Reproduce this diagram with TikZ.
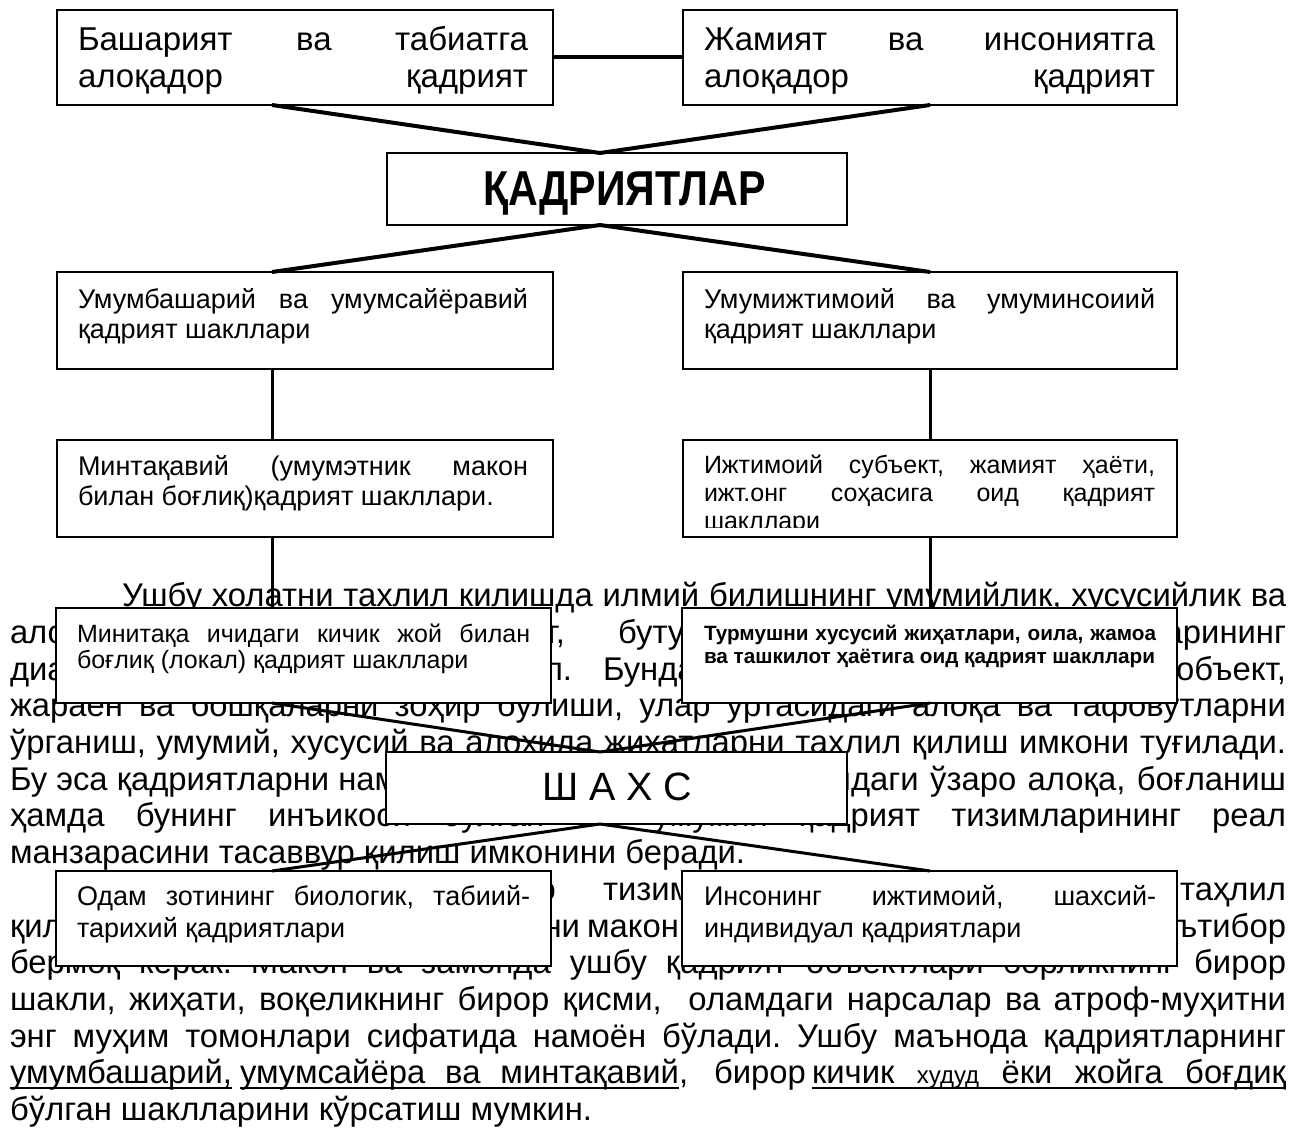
\documentclass[tikz,border=0pt]{standalone}
\usepackage{fontspec}
\setmainfont{Liberation Sans}
\newcommand\fsz[1]{\fontsize{#1}{#1}\selectfont}
\newcommand\jl[2]{\makebox[#1pt][s]{#2}}
\begin{document}
\frenchspacing
\begin{tikzpicture}[x=1pt,y=-1pt,
  bt/.style={anchor=base west,inner sep=0pt,outer sep=0pt,font=\fsz{32.8}},
  bte/.style={anchor=base east,inner sep=0pt,outer sep=0pt,font=\fsz{32.8}},
  bx/.style={draw,line width=2pt,fill=white,inner sep=0pt,outer sep=0pt,rectangle},
  lt/.style={anchor=base west,inner sep=0pt,outer sep=0pt},
  toplink/.style={line width=4pt,line join=round},
  vlink/.style={line width=3pt},
  midlink/.style={line width=3pt,line join=round},
  ul/.style={line width=1.5pt}]
\useasboundingbox (0,0) rectangle (1294,1132);
% ---------- body text ----------
\node[bt] (t1) at (122,606) {\jl{1164}{Ушбу холатни тахлил килишда илмий билишнинг умумийлик, хусусийлик ва}};
\node[bt] (t2a) at (10,643) {\jl{555}{алоҳидалик ва бирликнинг,}};
\node[bt] (t2b) at (618,643) {\jl{668}{бутун ва қисм категорияларининг}};
\node[bt] (t3a) at (10,680) {\jl{562}{диалектикасига таяниш маъқул.}};
\node[bt] (t3b) at (603,680) {\jl{683}{Бунда қадриятлар, субъект, объект,}};
\node[bt] (t4) at (10,716) {\jl{1276}{жараён ва бошқаларни зоҳир бўлиши, улар ўртасидаги алоқа ва тафовутларни}};
\node[bt] (t5) at (10,753) {\jl{1276}{ўрганиш, умумий, хусусий ва алоҳида жиҳатларни таҳлил қилиш имкони туғилади.}};
\node[bt] (t6a) at (10,790) {Бу эса қадриятларни намоён бўлиш};
\node[bte] (t6p) at (851,790) {шакллари};
\node[bt] (t6b) at (851,790) {\jl{435}{даги ўзаро алоқа, боғланиш}};
\node[bt] (t7) at (10,826) {\jl{1276}{ҳамда бунинг инъикоси бўлган энг умумий қадрият тизимларининг реал}};
\node[bt] (t8) at (10,863) {манзарасини тасаввур қилиш имконини беради.};
\node[bt] (t9a) at (122,900) {\jl{434}{Қадриятларни ўзаро}};
\node[bt] (t9b) at (603,900) {\jl{683}{тизими сифатида таҳлил}};
\node[bt] (t10a) at (10,937) {\jl{570}{қилишда уларнинг замони}};
\node[bt] (t10b) at (587,937) {\jl{699}{макони ва даврига эътибор}};
\node[bt] (t11) at (10,973) {\jl{1276}{бермоқ керак. Макон ва замонда ушбу қадрият объектлари борликнинг бирор}};
\node[bt] (t12) at (10,1010) {\jl{1276}{шакли, жиҳати, воқеликнинг бирор қисми,\ \ оламдаги нарсалар ва атроф-муҳитни}};
\node[bt] (t13) at (10,1047) {\jl{1276}{энг муҳим томонлари сифатида намоён бўлади. Ушбу маънода қадриятларнинг}};
\node[bt] (u1) at (10,1083) {умумбашарий,};
\node[bt] (u2) at (240,1083) {\jl{439}{умумсайёра ва минтақавий}};
\node[bt] (u3) at (679,1083) {,};
\node[bt] (u4) at (714,1083) {бирор};
\node[bt] (u5) at (812,1083) {\jl{474}{кичик {\fsz{24}худуд} ёки жойга боғдиқ}};
\node[bt] (t15) at (10,1120) {бўлган шаклларини кўрсатиш мумкин.};
\foreach \u in {u1,u2,u5}
  \draw[ul] ([yshift=-5pt]\u.base west) -- ([yshift=-5pt]\u.base east);
% ---------- coordinates for connectors ----------
\coordinate (xl) at (272,0);
\coordinate (xm) at (600,0);
\coordinate (xr) at (930,0);
% ---------- boxes ----------
\node[bx,minimum width=496pt,minimum height=95pt] (b1) at (305,57.5) {};
\node[bx,minimum width=494pt,minimum height=95pt] (b2) at (930,57.5) {};
\node[bx,minimum width=460pt,minimum height=72pt] (q) at (617,189) {};
\node[bx,minimum width=496pt,minimum height=97pt] (b3) at (305,320.5) {};
\node[bx,minimum width=494pt,minimum height=97pt] (b4) at (930,320.5) {};
\node[bx,minimum width=496pt,minimum height=97pt] (b5) at (305,488.5) {};
\node[bx,minimum width=494pt,minimum height=97pt] (b6) at (930,488.5) {};
\node[bx,minimum width=495pt,minimum height=95pt] (b7) at (303.5,655.5) {};
\node[bx,minimum width=495pt,minimum height=95pt] (b8) at (929.5,655.5) {};
\node[bx,minimum width=461pt,minimum height=72pt] (s) at (616.5,788) {};
\node[bx,minimum width=495pt,minimum height=95pt] (b9) at (303.5,918.5) {};
\node[bx,minimum width=495pt,minimum height=95pt] (b10) at (929.5,918.5) {};
% ---------- connectors ----------
\draw[toplink] (b1.east) -- (b2.west);
\draw[toplink] (b1.south -| xl) -- (q.north -| xm) -- (b2.south -| xr);
\draw[toplink] (b3.north -| xl) -- (q.south -| xm) -- (b4.north -| xr);
\draw[vlink] (b3.south -| xl) -- (b5.north -| xl);
\draw[vlink] (b4.south -| xr) -- (b6.north -| xr);
\draw[vlink] (b5.south -| xl) -- (b7.north -| xl);
\draw[vlink] (b6.south -| xr) -- (b8.north -| xr);
\draw[midlink] (b7.south -| xl) -- (s.north -| xm) -- (b8.south -| xr);
\draw[midlink] (b9.north -| xl) -- (s.south -| xm) -- (b10.north -| xr);
% ---------- box texts ----------
\node[lt,font=\fsz{33}] (b1a) at (78,51) {\jl{450}{Башарият ва табиатга}};
\node[lt,font=\fsz{33}] (b1b) at (78,88) {\jl{450}{алоқадор қадрият}};
\node[lt,font=\fsz{33}] (b2a) at (704,51) {\jl{451}{Жамият ва инсониятга}};
\node[lt,font=\fsz{33}] (b2b) at (704,88) {\jl{451}{алоқадор қадрият}};
\node[lt] (qa) at (483,205) {\scalebox{0.84}[1]{\bfseries\fsz{49}ҚАДРИЯТЛАР}};
\node[lt,font=\fsz{27}] (b3a) at (78,308) {\jl{450}{Умумбашарий ва умумсайёравий}};
\node[lt,font=\fsz{27}] (b3b) at (78,338) {қадрият шакллари};
\node[lt,font=\fsz{27}] (b4a) at (704,308) {\jl{451}{Умумижтимоий ва умуминсоиий}};
\node[lt,font=\fsz{27}] (b4b) at (704,338) {қадрият шакллари};
\node[lt,font=\fsz{27}] (b5a) at (78,475) {\jl{450}{Минтақавий (умумэтник макон}};
\node[lt,font=\fsz{27}] (b5b) at (78,505) {билан боғлиқ)қадрият шакллари.};
\begin{scope}
\clip (683,441) rectangle (1176,527);
\node[lt,font=\fsz{25}] (b6a) at (704,473) {\jl{451}{Ижтимоий субъект, жамият ҳаёти,}};
\node[lt,font=\fsz{25}] (b6b) at (704,501) {\jl{451}{ижт.онг соҳасига оид қадрият}};
\node[lt,font=\fsz{25}] (b6c) at (704,529) {шакллари};
\end{scope}
\node[lt,font=\fsz{25}] (b7a) at (77,642) {\jl{453}{Минитақа ичидаги кичик жой билан}};
\node[lt,font=\fsz{25}] (b7b) at (77,668) {боғлиқ (локал) қадрият шакллари};
\node[lt,font=\bfseries\fsz{20.7}] (b8a) at (704,640) {\jl{452}{Турмушни хусусий жиҳатлари, оила, жамоа}};
\node[lt,font=\bfseries\fsz{20.7}] (b8b) at (704,663) {ва ташкилот ҳаётига оид қадрият шакллари};
\node[lt,font=\fsz{39.5}] (sa) at (542,800) {Ш А Х С};
\node[lt,font=\fsz{27}] (b9a) at (77,905) {\jl{453}{Одам зотининг биологик, табиий-}};
\node[lt,font=\fsz{27}] (b9b) at (77,937) {тарихий қадриятлари};
\node[lt,font=\fsz{27}] (b10a) at (704,905) {\jl{452}{Инсонинг ижтимоий, шахсий-}};
\node[lt,font=\fsz{27}] (b10b) at (704,937) {индивидуал қадриятлари};
\end{tikzpicture}
\end{document}
